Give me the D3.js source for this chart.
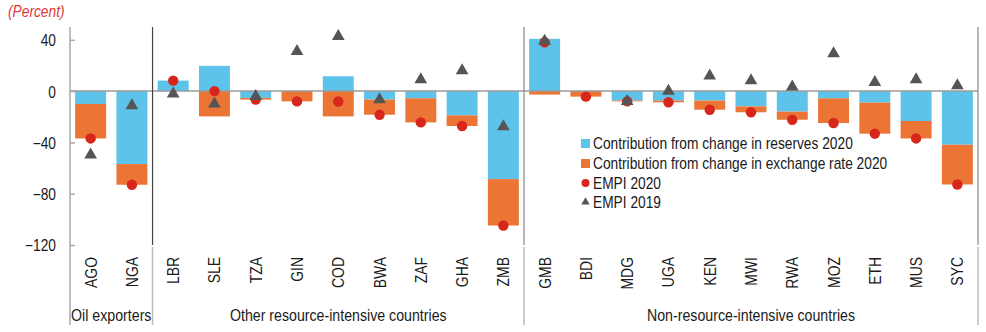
<!DOCTYPE html>
<html>
<head>
<meta charset="utf-8">
<script src="https://cdn.jsdelivr.net/npm/d3@7"></script>
<style>
  body { margin: 0; background: #fff; }
  svg text { font-family: "Liberation Sans", Arial, sans-serif; fill: #1a1a1a; }
</style>
</head>
<body>
<svg id="chart"></svg>
<script>
// country codes, in plotting order
const countries = ["AGO", "NGA",
  "LBR", "SLE", "TZA", "GIN", "COD", "BWA", "ZAF", "GHA", "ZMB",
  "GMB", "BDI", "MDG", "UGA", "KEN", "MWI", "RWA", "MOZ", "ETH", "MUS", "SYC"];

// country groups and how many countries each holds
const groupNames = ["Oil exporters", "Other resource-intensive countries", "Non-resource-intensive countries"];
const groupSizes = [2, 9, 11];

// contributions to the 2020 index (percent)
const reserves2020 = [-10.0, -56.9, 8.2, 19.7, -5.3, 0, 11.6, -6.6, -5.6, -18.9, -68.6,
  40.8, 0, -7.4, -7.4, -7.4, -11.9, -16.0, -5.6, -9.0, -23.3, -41.8];
const exchange2020 = [-26.9, -16.1, 0, -19.7, -1.3, -8.0, -19.7, -11.8, -18.8, -8.3, -36.2,
  -2.7, -4.3, -0.6, -1.3, -7.1, -4.6, -6.3, -19.3, -24.2, -13.6, -31.0];

// exchange market pressure index
const empi2020 = [-36.9, -73.0, 8.2, 0, -6.6, -8.0, -8.1, -18.4, -24.4, -27.2, -104.8,
  38.1, -4.3, -8.0, -8.7, -14.5, -16.5, -22.3, -24.9, -33.2, -36.9, -72.8];
const empi2019 = [-49.6, -11.3, -2.2, -10.0, -4.0, 31.0, 42.8, -6.6, 9.0, 16.0, -27.7,
  39.0, null, -8.0, 0, 12.0, 8.2, 3.3, 29.3, 6.9, 9.0, 4.3];

const yTicks = [-120, -80, -40, 0, 40];

const legendLabels = ["Contribution from change in reserves 2020",
  "Contribution from change in exchange rate 2020", "EMPI 2020", "EMPI 2019"];

const width = 986, height = 332;
const plotLeft = 70, plotRight = 978, plotTop = 27, plotBottom = 245, frameBottom = 325;
// the text face is a condensed sans, so squeeze the regular one along its baseline
const squeeze = 0.86;

const blue = "#5dc3ea", orange = "#ec7535", red = "#d9261c", grey = "#555";

let svg = d3.select("#chart").attr("width", width).attr("height", height);

let x = d3.scaleBand().domain(countries).range([plotLeft, plotRight]).paddingInner(0.25).paddingOuter(0.125);
let y = d3.scaleLinear().domain([-120, 50]).range([plotBottom, plotTop]);

function place(px, py, rotate, k) {
  return "translate(" + px + "," + py + ")" + (rotate ? " rotate(" + rotate + ")" : "") + " scale(" + (k || squeeze) + ",1)";
}

// stacked table for the two contributions
let rows = countries.map((c, i) => ({ country: c, reserves: reserves2020[i], exchange: exchange2020[i] }));
let series = d3.stack().keys(["reserves", "exchange"]).offset(d3.stackOffsetDiverging)(rows);
let colors = { reserves: blue, exchange: orange };

// percent label
svg.append("text").attr("transform", place(8, 17))
  .style("font-style", "italic").style("font-size", "16px").style("fill", "#e0363b")
  .text("(Percent)");

// bars
svg.append("g").selectAll("g").data(series).enter().append("g")
  .attr("fill", d => colors[d.key])
  .selectAll("rect").data(d => d).enter().append("rect")
  .attr("x", d => x(d.data.country))
  .attr("width", x.bandwidth())
  .attr("y", d => y(Math.max(d[0], d[1])))
  .attr("height", d => Math.abs(y(d[0]) - y(d[1])));

// zero line
svg.append("line").attr("x1", plotLeft).attr("x2", plotRight).attr("y1", y(0)).attr("y2", y(0))
  .attr("stroke", "#9a9a9a").attr("stroke-width", 1.5);

// left axis
let yAxis = d3.axisLeft(y).tickValues(yTicks).tickSize(-5).tickPadding(0)
  .tickFormat(d => d < 0 ? "\u2212" + Math.abs(d) : d);
let axisG = svg.append("g").attr("transform", "translate(" + plotLeft + ",0)").call(yAxis);
axisG.attr("font-family", null).attr("font-size", null);
axisG.select(".domain").remove();
axisG.selectAll(".tick line").attr("stroke", "#aaa").attr("stroke-width", 1.5);
axisG.selectAll(".tick text").attr("x", null).attr("dy", null)
  .attr("transform", place(-14, 0)).attr("dominant-baseline", "central")
  .style("font-size", "16px").attr("fill", "#1a1a1a");
svg.append("line").attr("x1", plotLeft).attr("x2", plotLeft).attr("y1", plotTop).attr("y2", frameBottom)
  .attr("stroke", "#aaa").attr("stroke-width", 1.5);

// group separators and right edge
let bounds = [];
let acc = 0;
groupSizes.forEach(n => { acc += n; bounds.push(acc); });
let sepX = bounds.map(b => plotLeft + b * x.step());
sepX.forEach((sx, i) => {
  svg.append("line").attr("x1", sx).attr("x2", sx).attr("y1", plotTop).attr("y2", plotBottom)
    .attr("stroke", i === 0 ? "#444" : "#888").attr("stroke-width", 1.2);
  svg.append("line").attr("x1", sx).attr("x2", sx).attr("y1", plotBottom + 2).attr("y2", frameBottom)
    .attr("stroke", "#bbb").attr("stroke-width", 1.5);
});

// group labels
let start = 0;
groupNames.forEach((name, i) => {
  let cx = plotLeft + (start + groupSizes[i] / 2) * x.step();
  start += groupSizes[i];
  svg.append("text").attr("transform", place(cx, 321)).attr("text-anchor", "middle")
    .style("font-size", "16.5px").text(name);
});

// category labels
svg.append("g").selectAll("text").data(countries).enter().append("text")
  .attr("transform", d => place(x(d) + x.bandwidth() / 2, 257, -90, 0.82))
  .attr("text-anchor", "end").attr("dy", "0.35em")
  .style("font-size", "17px")
  .text(d => d);

// EMPI 2020 dots
svg.append("g").selectAll("circle").data(countries).enter().append("circle")
  .attr("cx", d => x(d) + x.bandwidth() / 2)
  .attr("cy", (d, i) => y(empi2020[i]))
  .attr("r", 5.2).attr("fill", red);

// EMPI 2019 triangles
let tri = d3.symbol().type(d3.symbolTriangle).size(70);
svg.append("g").selectAll("path").data(countries.filter((c, i) => empi2019[i] !== null)).enter().append("path")
  .attr("d", tri)
  .attr("transform", d => "translate(" + (x(d) + x.bandwidth() / 2) + "," + y(empi2019[countries.indexOf(d)]) + ")")
  .attr("fill", grey);

// legend
let legend = svg.append("g").attr("transform", "translate(581,0)");
let rowY = [143.5, 163.5, 183, 202];
legendLabels.forEach((label, i) => {
  let g = legend.append("g").attr("transform", "translate(0," + rowY[i] + ")");
  if (i < 2) {
    g.append("rect").attr("x", 0).attr("y", -4.5).attr("width", 9).attr("height", 9)
      .attr("fill", i === 0 ? blue : orange);
  } else if (i === 2) {
    g.append("circle").attr("cx", 4.5).attr("cy", 0).attr("r", 4).attr("fill", red);
  } else {
    g.append("path").attr("d", d3.symbol().type(d3.symbolTriangle).size(30))
      .attr("transform", "translate(4.5,0)").attr("fill", grey);
  }
  g.append("text").attr("transform", place(12, 0)).attr("dy", "0.35em").style("font-size", "16px").text(label);
});
</script>
</body>
</html>
